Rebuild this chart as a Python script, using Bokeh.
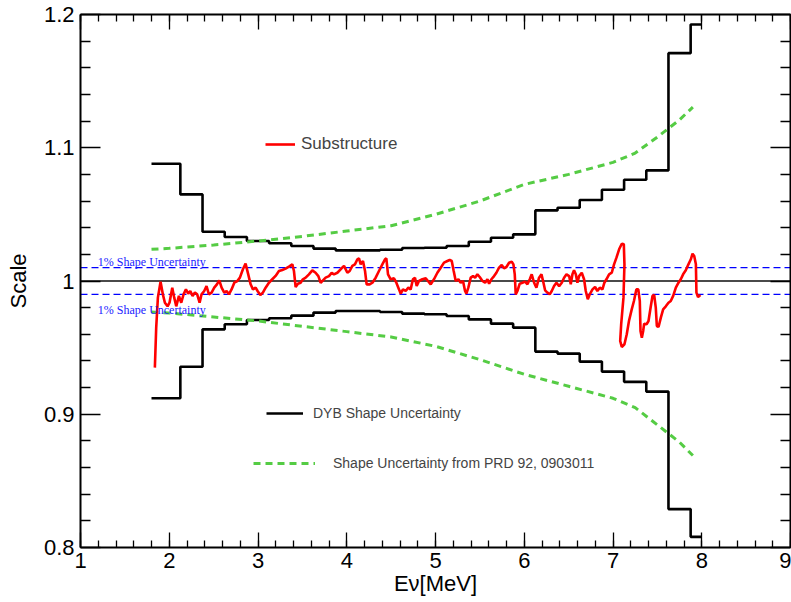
import math
from bokeh.plotting import figure
from bokeh.models import (Range1d, LinearAxis, SingleIntervalTicker, FixedTicker, NumeralTickFormatter,
                          CustomJSTickFormatter, Span, Label, Legend, LegendItem)
from bokeh.embed import file_html
from bokeh.resources import INLINE

# ---------------- data ----------------
bin_edges = [1.8, 2.125, 2.375, 2.625, 2.875, 3.125, 3.375, 3.625, 3.875, 4.125, 4.375,
             4.625, 4.875, 5.125, 5.375, 5.625, 5.875, 6.125, 6.375, 6.625, 6.875,
             7.125, 7.375, 7.625, 7.875, 8.0]
dyb_upper = [1.088, 1.065, 1.037, 1.033, 1.030, 1.0283, 1.0263, 1.0243, 1.023, 1.023,
             1.0235, 1.0248, 1.025, 1.0263, 1.0295, 1.0325, 1.035, 1.053, 1.055, 1.0608,
             1.0685, 1.076, 1.083, 1.171, 1.1925]
dyb_lower = [0.912, 0.9357, 0.9637, 0.9675, 0.9707, 0.972, 0.974, 0.9763, 0.9775, 0.9775,
             0.9767, 0.9755, 0.975, 0.9737, 0.9712, 0.968, 0.965, 0.947, 0.9455, 0.9395,
             0.932, 0.9243, 0.917, 0.8288, 0.808]

prd_x = [1.8, 2.0, 2.5, 3.0, 3.5, 4.0, 4.5, 5.0, 5.5, 6.0, 6.5, 7.0, 7.25, 7.5, 7.75, 7.9]
prd_upper = [1.0238, 1.0245, 1.027, 1.030, 1.0335, 1.0375, 1.0415, 1.050, 1.060, 1.0725,
             1.080, 1.089, 1.096, 1.108, 1.121, 1.1305]
prd_lower = [0.9767, 0.976, 0.973, 0.970, 0.966, 0.962, 0.958, 0.951, 0.941, 0.930,
             0.921, 0.912, 0.905, 0.892, 0.879, 0.869]

sub_x = [1.838, 1.853, 1.872, 1.902, 1.928, 1.951, 1.981, 2.003, 2.034, 2.056, 2.079, 2.109,
         2.135, 2.161, 2.188, 2.214, 2.237, 2.263, 2.289, 2.315, 2.342, 2.364, 2.394, 2.42,
         2.447, 2.477, 2.507, 2.537, 2.564, 2.59, 2.62, 2.646, 2.672, 2.702, 2.733, 2.767,
         2.796, 2.83, 2.86, 2.89, 2.917, 2.943, 2.973, 2.995, 3.026, 3.055, 3.086, 3.123,
         3.161, 3.198, 3.236, 3.274, 3.311, 3.349, 3.387, 3.405, 3.424, 3.45, 3.48, 3.506,
         3.537, 3.574, 3.612, 3.649, 3.68, 3.706, 3.732, 3.762, 3.8, 3.83, 3.856, 3.894,
         3.931, 3.969, 4.007, 4.033, 4.063, 4.092, 4.12, 4.138, 4.157, 4.183, 4.206, 4.224,
         4.258, 4.289, 4.326, 4.363, 4.401, 4.431, 4.446, 4.465, 4.495, 4.532, 4.559, 4.589,
         4.608, 4.633, 4.664, 4.694, 4.72, 4.746, 4.769, 4.788, 4.814, 4.852, 4.89, 4.915,
         4.946, 4.983, 5.021, 5.059, 5.096, 5.134, 5.16, 5.183, 5.205, 5.228, 5.258, 5.284,
         5.31, 5.333, 5.348, 5.37, 5.397, 5.423, 5.446, 5.472, 5.498, 5.529, 5.559, 5.585,
         5.604, 5.63, 5.66, 5.686, 5.716, 5.746, 5.772, 5.799, 5.829, 5.859, 5.878, 5.893,
         5.904, 5.923, 5.949, 5.98, 6.009, 6.036, 6.062, 6.084, 6.111, 6.137, 6.167, 6.194,
         6.212, 6.235, 6.261, 6.287, 6.31, 6.336, 6.363, 6.393, 6.423, 6.449, 6.476, 6.506,
         6.524, 6.543, 6.561, 6.581, 6.599, 6.618, 6.648, 6.674, 6.693, 6.716, 6.738, 6.769,
         6.798, 6.824, 6.851, 6.881, 6.903, 6.926, 6.956, 6.986, 7.012, 7.039, 7.069, 7.099,
         7.122, 7.129, 7.118, 7.092, 7.081, 7.099, 7.129, 7.155, 7.18, 7.211, 7.236, 7.263,
         7.285, 7.302, 7.31, 7.325, 7.34, 7.351, 7.378, 7.40, 7.426, 7.445, 7.464, 7.482,
         7.494, 7.513, 7.539, 7.565, 7.595, 7.625, 7.651, 7.678, 7.708, 7.738, 7.764, 7.79,
         7.82, 7.85, 7.877, 7.896, 7.915, 7.934, 7.94, 7.958, 7.985]
sub_y = [0.935, 0.965, 0.9875, 0.9995, 0.990, 0.9837, 0.981, 0.9837, 0.995, 0.9875, 0.981,
         0.9888, 0.9837, 0.990, 0.9937, 0.9905, 0.9925, 0.9888, 0.9913, 0.990, 0.9837, 0.990,
         0.9925, 0.9962, 0.990, 0.9913, 0.995, 0.9975, 1.0005, 0.995, 0.9913, 0.9925, 0.990,
         0.9937, 0.9987, 1.000, 1.0025, 1.0088, 1.013, 1.005, 0.9975, 0.9937, 0.995, 0.9925,
         0.9895, 0.9913, 0.995, 0.9987, 1.0013, 1.0038, 1.0075, 1.0083, 1.0093, 1.0108,
         1.0125, 1.0075, 0.9955, 0.998, 0.9987, 1.0013, 1.0025, 1.005, 1.008, 1.0062, 1.0037,
         0.9987, 1.0005, 1.0025, 1.0037, 1.0062, 1.005, 1.0062, 1.0088, 1.0113, 1.0062,
         1.0075, 1.0113, 1.0125, 1.0163, 1.017, 1.0125, 1.015, 1.0075, 0.9975, 0.9975,
         0.9987, 1.0025, 1.0075, 1.0125, 1.0163, 1.017, 1.005, 1.0013, 1.002, 0.9987, 0.9937,
         0.9905, 0.9937, 0.9925, 0.995, 0.9937, 1.0013, 1.0025, 0.9962, 1.0, 1.0013, 1.002,
         1.0, 0.9975, 1.0013, 1.0062, 1.01, 1.0138, 1.015, 1.0158, 1.015, 1.0075, 1.0, 1.0013,
         0.9987, 1.0, 0.9925, 0.9905, 0.995, 1.0025, 1.0037, 1.0025, 1.005, 1.003, 1.0,
         0.9987, 1.0013, 0.998, 1.0013, 1.0037, 1.0062, 1.01, 1.012, 1.0095, 1.0105, 1.0137,
         1.0145, 1.0125, 1.005, 0.990, 0.9925, 0.998, 0.9987, 0.9995, 0.9975, 1.0013, 1.005,
         0.9987, 0.995, 1.0025, 1.005, 1.0, 0.993, 0.9913, 0.990, 0.9925, 0.9962, 0.9987,
         0.9962, 0.9987, 1.0025, 1.005, 1.0037, 0.9975, 1.005, 1.008, 1.005, 0.9987, 1.0037,
         1.0062, 1.0013, 0.9925, 0.9863, 0.990, 0.9937, 0.9955, 0.9925, 0.995, 0.9937,
         0.9987, 1.0013, 1.005, 1.0062, 1.0125, 1.0175, 1.0238, 1.028, 1.0275, 1.0125,
         0.9875, 0.9675, 0.955, 0.9505, 0.9525, 0.960, 0.970, 0.9787, 0.985, 0.9937, 0.9937,
         0.985, 0.9625, 0.9575, 0.9625, 0.968, 0.9675, 0.970, 0.981, 0.9888, 0.9895, 0.980,
         0.9662, 0.9655, 0.9725, 0.9787, 0.981, 0.9837, 0.985, 0.9888, 0.995, 0.9987, 1.0013,
         1.005, 1.008, 1.0125, 1.0163, 1.0205, 1.0188, 1.0125, 0.9913, 0.988, 0.9895]

unity_level = 1.0
band_levels = [1.01, 0.99]
band_text = "1% Shape Uncertainty"

y_major_ticks = [0.8, 0.9, 1.0, 1.1, 1.2]
y_minor_ticks = [0.82, 0.84, 0.86, 0.88, 0.92, 0.94, 0.96, 0.98,
                 1.02, 1.04, 1.06, 1.08, 1.12, 1.14, 1.16, 1.18]

x_title = "E\u03bd[MeV]"
y_title = "Scale"

x_range_lim = (1, 9)
y_range_lim = (0.8, 1.2)

# ---------------- figure ----------------
FONT = "Liberation Sans"
p = figure(width=791, height=602, x_range=Range1d(*x_range_lim), y_range=Range1d(*y_range_lim),
           output_backend="svg", toolbar_location=None,
           min_border_left=80, min_border_right=1, min_border_top=14, min_border_bottom=55)
p.xgrid.visible = False
p.ygrid.visible = False
p.outline_line_color = None
p.background_fill_color = "white"
p.border_fill_color = "white"


def style_axis(ax, ticker, major_len, minor_len):
    ax.ticker = ticker
    ax.major_tick_in = major_len
    ax.major_tick_out = 0
    ax.minor_tick_in = minor_len
    ax.minor_tick_out = 0
    ax.axis_line_color = "black"
    ax.axis_line_width = 2
    ax.major_tick_line_color = "black"
    ax.major_tick_line_width = 1.3
    ax.minor_tick_line_color = "black"
    ax.minor_tick_line_width = 1.3
    ax.major_label_text_font = FONT
    ax.major_label_text_font_size = "22px"
    ax.major_label_text_color = "black"
    ax.axis_label_text_font = FONT
    ax.axis_label_text_font_size = "22px"
    ax.axis_label_text_font_style = "normal"
    ax.axis_label_text_color = "black"


xb = p.xaxis[0]
style_axis(xb, SingleIntervalTicker(interval=1, num_minor_ticks=5), 15, 7)
xb.major_label_standoff = 5
xb.axis_label = x_title
xb.axis_label_standoff = 0

yl = p.yaxis[0]
style_axis(yl, FixedTicker(ticks=y_major_ticks, minor_ticks=y_minor_ticks), 20, 10)
yl.formatter = NumeralTickFormatter(format="0.[0]")
yl.major_label_standoff = 6
yl.axis_label = y_title
yl.axis_label_standoff = 10

top = LinearAxis(formatter=CustomJSTickFormatter(code="return ''"))
style_axis(top, SingleIntervalTicker(interval=1, num_minor_ticks=5), 15, 7)
top.major_label_standoff = 0
top.major_label_text_font_size = "1px"
p.add_layout(top, "above")

right = LinearAxis(formatter=CustomJSTickFormatter(code="return ''"))
style_axis(right, FixedTicker(ticks=y_major_ticks, minor_ticks=y_minor_ticks), 20, 10)
right.major_label_standoff = 0
right.major_label_text_font_size = "1px"
p.add_layout(right, "right")

# reference lines
p.add_layout(Span(location=unity_level, dimension="width", line_color="#4a4a4a",
                  line_width=2, level="underlay"))
for lv in band_levels:
    p.add_layout(Span(location=lv, dimension="width", line_color="#0000ff",
                      line_width=1.2, line_dash="7 4", level="underlay"))

# glyphs
r_up = p.step(bin_edges, dyb_upper + [dyb_upper[-1]], mode="after", line_color="black", line_width=2.6)
p.step(bin_edges, dyb_lower + [dyb_lower[-1]], mode="after", line_color="black", line_width=2.6)
r_g = p.line(prd_x, prd_upper, line_color="#55cc44", line_width=3, line_dash="7 5")
p.line(prd_x, prd_lower, line_color="#55cc44", line_width=3, line_dash="7 5")
r_red = p.line(sub_x, sub_y, line_color="#ff0000", line_width=2.6)

# band texts
p.add_layout(Label(x=1.195, y=1.01425, text=band_text, text_font="Liberation Serif",
                   text_font_size="12px", text_color="#1a1aff", text_baseline="alphabetic"))
p.add_layout(Label(x=1.195, y=0.97825, text=band_text, text_font="Liberation Serif",
                   text_font_size="12px", text_color="#1a1aff", text_baseline="alphabetic"))


def make_legend(label, rend, loc, gw, standoff, fsize):
    return Legend(items=[LegendItem(label=label, renderers=[rend])], location=loc,
                  glyph_width=gw, glyph_height=20, label_height=20, label_standoff=standoff,
                  label_text_font=FONT, label_text_font_size=fsize, padding=0, margin=0,
                  spacing=0, border_line_color=None, background_fill_alpha=0)


p.add_layout(make_legend("Substructure", r_red, (185, 393), 30, 6, "17px"))
p.add_layout(make_legend("DYB Shape Uncertainty", r_up, (186, 124), 37, 10, "14px"))
p.add_layout(make_legend("Shape Uncertainty from PRD 92, 0903011", r_g, (173, 74), 62, 18, "14px"))

open("out.html", "w").write(file_html(p, INLINE))
